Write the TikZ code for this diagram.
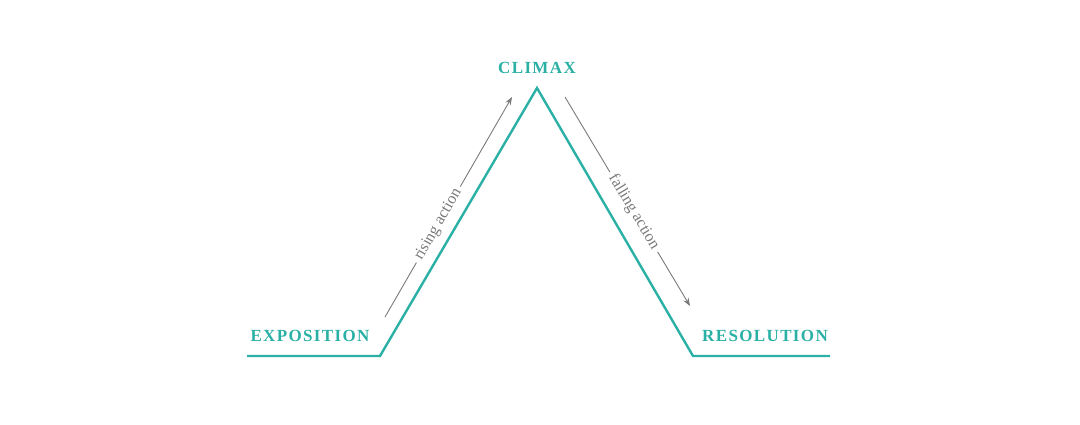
\documentclass[tikz,border=0pt]{standalone}
\usepackage{fontspec}
\setmainfont{Liberation Serif}
\newfontfamily\capsfont[LetterSpace=8]{Liberation Serif}
\usetikzlibrary{arrows.meta}
\definecolor{teal1}{HTML}{2AB0A4}
\definecolor{gray1}{HTML}{7A7A7A}
\tikzset{
  lbl/.style={text=teal1,font=\capsfont\bfseries\fontsize{17}{19}\selectfont},
  act/.style={draw=gray1,line width=0.9pt,-{Stealth[length=8pt,width=6pt]}},
  acttxt/.style={text=gray1,fill=white,sloped,font=\fontsize{16}{18}\selectfont,inner sep=4pt}
}
\begin{document}
\begin{tikzpicture}[x=1pt,y=-1pt]
\useasboundingbox (0,0) rectangle (1080,424);
\coordinate (a) at (247,356);
\coordinate (b) at (380,356);
\coordinate (c) at (537,88);
\coordinate (d) at (693,356);
\coordinate (e) at (830,356);
\draw[teal1,line width=2.4pt,line join=miter] (a)--(b)--(c)--(d)--(e);
\node[lbl] (expo) at (310,336) {EXPOSITION};
\node[lbl] (climax) at (537,68) {CLIMAX};
\node[lbl] (reso) at (765,336) {RESOLUTION};
\coordinate (r1) at (385,317);
\coordinate (r2) at (512,97);
\coordinate (f1) at (565,97);
\coordinate (f2) at (690,306);
\draw[act] (r1) -- node[acttxt,pos=0.42] (rtxt) {rising action} (r2);
\draw[act] (f1) -- node[acttxt,pos=0.55] (ftxt) {falling action} (f2);
\end{tikzpicture}
\end{document}
